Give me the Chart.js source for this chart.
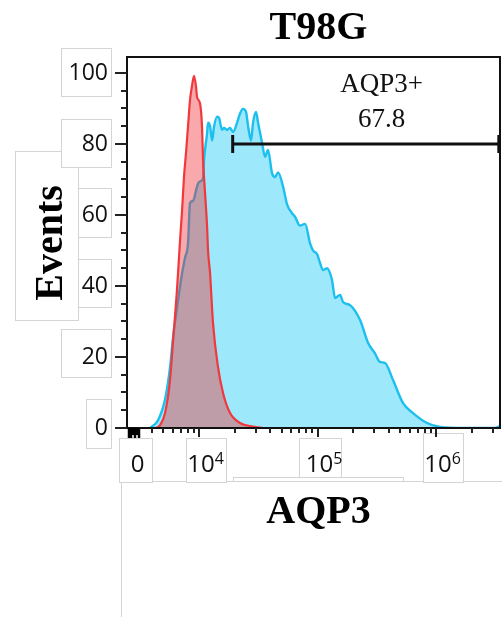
<!DOCTYPE html>
<html>
<head>
<meta charset="utf-8">
<title>T98G AQP3</title>
<script src="https://cdn.jsdelivr.net/npm/chart.js@4.4.1/dist/chart.umd.min.js"></script>
<style>
  html, body { margin: 0; padding: 0; background: #fff; }
  canvas { display: block; }
</style>
</head>
<body>
<canvas id="histogram" width="502" height="617"></canvas>
<script>
// AQP3 fluorescence on a log10 scale (biexponential display, zero sits near 3.43)
const controlLog = [3.586, 3.629, 3.671, 3.713, 3.755, 3.781, 3.814, 3.840, 3.857, 3.873,
    3.890, 3.907, 3.924, 3.941, 3.958, 3.975, 3.983, 4.008, 4.025, 4.034,
    4.051, 4.068, 4.076, 4.093, 4.118, 4.160, 4.203, 4.262, 4.346, 4.456, 4.540];
const controlEvents = [0, 0, 0.8, 4.2, 13.5, 24.8, 39, 53, 61.4, 70.7,
    77.5, 85, 92.4, 96.5, 99.2, 96, 93.2, 91.5, 85, 75.5,
    66, 56.7, 50, 43.6, 29.5, 17.2, 9.8, 4.2, 1.4, 0.4, 0];

const stainedLog = [3.586, 3.654, 3.713, 3.755, 3.781, 3.823, 3.857, 3.882, 3.907, 3.924,
    3.949, 3.983, 4.000, 4.034, 4.042, 4.068, 4.076, 4.093, 4.110, 4.127,
    4.152, 4.169, 4.194, 4.211, 4.236, 4.262, 4.287, 4.321, 4.346, 4.371,
    4.397, 4.414, 4.439, 4.456, 4.481, 4.498, 4.532, 4.557, 4.582, 4.616,
    4.641, 4.667, 4.709, 4.743, 4.785, 4.810, 4.852, 4.895, 4.937, 4.962,
    4.996, 5.021, 5.046, 5.080, 5.122, 5.148, 5.190, 5.215, 5.274, 5.359,
    5.426, 5.485, 5.527, 5.570, 5.637, 5.722, 5.806, 5.924, 6.034, 6.228,
    6.498, 6.540];
const stainedEvents = [0, 2.2, 8, 17, 25.6, 36, 43.6, 48, 52, 63.4,
    64, 68, 69.3, 70.4, 75.5, 83, 86, 85, 81, 85,
    87.7, 87.3, 84, 84.5, 84, 84.5, 83.4, 86, 88.6, 89.9,
    89, 85, 81, 86, 89, 86, 80.3, 76.4, 78.3, 71.8,
    70.7, 72, 68, 63, 60.5, 59.5, 57, 57.5, 52, 50,
    49, 46.5, 44.5, 45, 41.7, 36.6, 37.5, 35.5, 34.6, 30.4,
    24, 21, 18.6, 18.3, 13.5, 7, 4.2, 1.4, 0.3, 0,
    0, 0.5];

// AQP3+ gate
const gateStart = 4.284;
const gateEnd = 6.53;
const gateLevel = 80;
const gateName = 'AQP3+';
const gatePercent = 67.8;
const gateLabelX = 5.54;

// axes
const xMin = 3.392;
const xMax = 6.540;
const yMax = 104.5;
const xDecades = [4, 5, 6];
const xZero = 3.426;
const xZeroTicks = [3.405, 3.415, 3.426, 3.443, 3.460, 3.477, 3.494];
const yTickStep = 5;
const yLabelStep = 20;

// white backing boxes behind the axis labels [x0, y0, x1, y1]
const backingBoxes = [
    [15, 151, 78, 320],
    [61, 48, 111, 96],
    [61, 119, 111, 167],
    [78, 188, 111, 237],
    [78, 259, 111, 307],
    [61, 329, 111, 377],
    [86, 399, 111, 448],
    [121, 481, 530, 640],
    [233, 477, 403, 481],
    [119, 438, 152, 482],
    [186, 438, 226, 482],
    [299, 438, 341, 477],
    [423, 433, 463, 482],
];

const SERIF = '"Liberation Serif", "Times New Roman", serif';
const SANS = '"Open Sans", sans-serif';

const toPoints = (xs, ys) => xs.map((x, i) => ({ x, y: ys[i] }));

function minorLogTicks() {
    const ticks = [];
    for (let d = 3; d <= 6; d++) {
        for (let k = 2; k <= 9; k++) {
            const v = d + Math.log10(k);
            if (v > 3.55 && v < xMax) ticks.push(v);
        }
    }
    return ticks;
}

const histogramFrame = {
    id: 'histogramFrame',
    beforeDraw(chart) {
        const ctx = chart.ctx;
        ctx.save();
        ctx.fillStyle = '#fff';
        ctx.strokeStyle = '#d4d4d4';
        ctx.lineWidth = 1;
        backingBoxes.forEach(([x0, y0, x1, y1]) => {
            ctx.fillRect(x0, y0, x1 - x0, y1 - y0);
            ctx.strokeRect(x0 + 0.5, y0 + 0.5, x1 - x0, y1 - y0);
        });
        ctx.restore();
    },
    afterDatasetsDraw(chart) {
        const { ctx, chartArea: area, scales: { x, y } } = chart;
        ctx.save();

        // gate end caps, at the gate's own points
        ctx.strokeStyle = '#111';
        ctx.lineWidth = 3;
        chart.getDatasetMeta(0).data.forEach(pt => {
            ctx.beginPath();
            ctx.moveTo(pt.x, pt.y - 9);
            ctx.lineTo(pt.x, pt.y + 9);
            ctx.stroke();
        });

        // plot frame
        ctx.lineWidth = 2;
        ctx.strokeRect(area.left, area.top, area.right - area.left, area.bottom - area.top);

        // y tick marks
        ctx.strokeStyle = '#222';
        for (let v = 0; v <= 100; v += yTickStep) {
            const py = Math.round(y.getPixelForValue(v));
            const len = v % yLabelStep === 0 ? 12 : 6;
            ctx.beginPath();
            ctx.moveTo(area.left - len, py);
            ctx.lineTo(area.left, py);
            ctx.stroke();
        }

        // x tick marks
        const xTick = (v, len, w) => {
            const px = Math.round(x.getPixelForValue(v));
            ctx.lineWidth = w;
            ctx.beginPath();
            ctx.moveTo(px, area.bottom);
            ctx.lineTo(px, area.bottom + len);
            ctx.stroke();
        };
        minorLogTicks().forEach(v => xTick(v, 5, 2));
        xDecades.forEach(v => xTick(v, 9, 2));
        ctx.strokeStyle = '#000';
        xZeroTicks.forEach((v, i) => xTick(v, i % 2 ? 7 : 10, 2.5));

        // x tick labels
        const shift = 6.5;
        const base = area.bottom + 44;
        ctx.fillStyle = '#111';
        ctx.textBaseline = 'alphabetic';
        ctx.textAlign = 'center';
        ctx.font = '24px ' + SANS;
        ctx.fillText('0', x.getPixelForValue(xZero) + shift, base);
        xDecades.forEach(d => {
            ctx.font = '24px ' + SANS;
            const mw = ctx.measureText('10').width;
            ctx.font = '16px ' + SANS;
            const ew = ctx.measureText(String(d)).width;
            const left = x.getPixelForValue(d) + shift - (mw + ew) / 2;
            ctx.textAlign = 'left';
            ctx.font = '24px ' + SANS;
            ctx.fillText('10', left, base);
            ctx.font = '16px ' + SANS;
            ctx.fillText(String(d), left + mw, base - 8);
        });

        // gate label
        const gx = x.getPixelForValue(gateLabelX);
        const gy = y.getPixelForValue(gateLevel);
        ctx.textAlign = 'center';
        ctx.fillStyle = '#111';
        ctx.font = '27px ' + SERIF;
        ctx.fillText(gateName, gx, gy - 52);
        ctx.fillText(gatePercent.toFixed(1), gx, gy - 17);

        // titles
        const cx = (area.left + area.right) / 2 + 5;
        ctx.fillStyle = '#000';
        ctx.font = 'bold 40px ' + SERIF;
        ctx.fillText('T98G', cx, area.top - 18);
        ctx.fillText('AQP3', cx, area.bottom + 95);

        ctx.translate(62, (area.top + area.bottom) / 2 + 0.5);
        ctx.rotate(-Math.PI / 2);
        ctx.fillText('Events', 0, 0);

        ctx.restore();
    }
};

new Chart(document.getElementById('histogram'), {
    type: 'line',
    data: {
        datasets: [
            {
                label: gateName,
                data: [{ x: gateStart, y: gateLevel }, { x: gateEnd, y: gateLevel }],
                borderColor: '#111',
                borderWidth: 3,
                pointRadius: 0,
                pointHoverRadius: 0,
                fill: false,
                clip: false,
                order: 0,
            },
            {
                label: 'Control',
                data: toPoints(controlLog, controlEvents),
                borderColor: '#F0393C',
                backgroundColor: 'rgba(240, 40, 45, 0.4)',
                borderWidth: 2.2,
                fill: 'origin',
                pointRadius: 0,
                pointHoverRadius: 0,
                cubicInterpolationMode: 'monotone',
                order: 1,
            },
            {
                label: 'AQP3',
                data: toPoints(stainedLog, stainedEvents),
                borderColor: '#1CBFEE',
                backgroundColor: '#9DE9FB',
                borderWidth: 2.4,
                fill: 'origin',
                pointRadius: 0,
                pointHoverRadius: 0,
                cubicInterpolationMode: 'monotone',
                order: 2,
            },
        ],
    },
    options: {
        responsive: false,
        animation: false,
        events: [],
        layout: { padding: { left: 0, top: 57, right: 2, bottom: 189 } },
        plugins: {
            legend: { display: false },
            tooltip: { enabled: false },
        },
        scales: {
            x: { type: 'linear', min: xMin, max: xMax, display: false },
            y: {
                type: 'linear',
                min: 0,
                max: yMax,
                afterFit: scale => { scale.width = 127; },
                grid: { display: false, drawTicks: false },
                border: { display: false },
                ticks: {
                    stepSize: yTickStep,
                    includeBounds: false,
                    autoSkip: false,
                    padding: 19,
                    color: '#111',
                    font: { family: 'Open Sans', size: 23 },
                    callback: v => (v % yLabelStep === 0 ? v : ''),
                },
            },
        },
    },
    plugins: [histogramFrame],
});
</script>
</body>
</html>
